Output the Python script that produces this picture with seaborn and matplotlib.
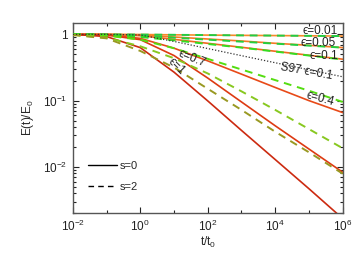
import matplotlib
matplotlib.use("Agg")
import matplotlib.pyplot as plt
import matplotlib.ticker as mticker
import seaborn as sns
import numpy as np

# time in units of t0
t = [1e-2, 1e-1, 1e0, 1e1, 1e2, 1e3, 1e4, 1e5, 1e6]

eps_labels = ["0.01", "0.05", "0.1", "0.4", "0.7", "1"]

# s = 0 (solid), E(t)/E0
e_s0_001 = [1.0, 1.0, 0.995, 0.984, 0.975, 0.966, 0.959, 0.951, 0.942]
e_s0_005 = [1.0, 1.0, 0.977, 0.912, 0.851, 0.794, 0.733, 0.684, 0.631]
e_s0_01 = [1.0, 1.0, 0.955, 0.841, 0.733, 0.638, 0.556, 0.484, 0.422]
e_s0_04 = [1.0, 0.982, 0.871, 0.619, 0.398, 0.251, 0.158, 0.100, 0.066]
e_s0_07 = [1.0, 0.977, 0.832, 0.479, 0.219, 0.0955, 0.0417, 0.0186, 0.0083]
e_s0_1 = [1.0, 0.927, 0.631, 0.269, 0.099, 0.0355, 0.0129, 0.00468, 0.00166]

# s = 2 (dashed)
e_s2_001 = [1.0, 0.998, 0.993, 0.984, 0.975, 0.966, 0.958, 0.950, 0.942]
e_s2_005 = [1.0, 0.989, 0.955, 0.891, 0.832, 0.776, 0.724, 0.676, 0.631]
e_s2_01 = [1.0, 0.977, 0.912, 0.813, 0.716, 0.631, 0.550, 0.479, 0.417]
e_s2_04 = [0.993, 0.955, 0.832, 0.617, 0.427, 0.295, 0.204, 0.141, 0.0955]
e_s2_07 = [0.989, 0.891, 0.661, 0.437, 0.257, 0.138, 0.0724, 0.0372, 0.0191]
e_s2_1 = [0.977, 0.871, 0.562, 0.316, 0.151, 0.0724, 0.0339, 0.0166, 0.0079]

# S97, eps = 0.1
e_s97 = [1.0, 1.0, 0.98, 0.782, 0.611, 0.477, 0.373, 0.292, 0.229]

solid = [e_s0_001, e_s0_005, e_s0_01, e_s0_04, e_s0_07, e_s0_1]
dashed = [e_s2_001, e_s2_005, e_s2_01, e_s2_04, e_s2_07, e_s2_1]

solid_colors = ["#f58a2a", "#f57a25", "#f06a20", "#e84a18", "#dd3a12", "#cc2a10"]
dashed_colors = ["#22cc44", "#22d040", "#33dd22", "#55dd11", "#88c820", "#999922"]

sns.set_style("ticks")
plt.rcParams["font.family"] = ["Liberation Sans", "DejaVu Sans"]
plt.rcParams["mathtext.fontset"] = "custom"
plt.rcParams["mathtext.rm"] = "Liberation Sans"
plt.rcParams["mathtext.default"] = "regular"

fig = plt.figure(figsize=(3.64, 2.6), dpi=100)
ax = fig.add_axes([0.2, 0.18, 0.7415, 0.7327])

# Curves
for e, c in zip(solid, solid_colors):
    sns.lineplot(x=t, y=e, ax=ax, color=c, lw=1.2, linestyle="-", zorder=2)
for e, c in zip(dashed, dashed_colors):
    sns.lineplot(x=t, y=e, ax=ax, color=c, lw=1.4, linestyle=(0, (4, 3)), zorder=3)
sns.lineplot(x=t, y=e_s97, ax=ax, color="#333333", lw=0.9, linestyle=(0, (1, 1.5)), zorder=3)

ax.set_xscale("log")
ax.set_yscale("log")
ax.set_xlim(1e-2, 1e6)
ax.set_ylim(0.002, 1.5)

# Ticks
ax.xaxis.set_major_locator(mticker.FixedLocator([1e-2, 1e0, 1e2, 1e4, 1e6]))
ax.xaxis.set_minor_locator(mticker.FixedLocator([1e-1, 1e1, 1e3, 1e5]))
ax.xaxis.set_minor_formatter(mticker.NullFormatter())
ax.xaxis.set_major_formatter(mticker.FuncFormatter(lambda v, p: "10$^{%d}$" % round(np.log10(v))))
ax.yaxis.set_major_locator(mticker.FixedLocator([1e-2, 1e-1, 1e0]))
ax.yaxis.set_minor_locator(mticker.LogLocator(base=10, subs=np.arange(2, 10)))
ax.yaxis.set_minor_formatter(mticker.NullFormatter())
ax.yaxis.set_major_formatter(mticker.FuncFormatter(
    lambda v, p: "1" if round(np.log10(v)) == 0 else "10$^{%d}$" % round(np.log10(v))))
ax.tick_params(which="both", direction="in", top=True, right=True, labelsize=8.5,
               colors="#222222", pad=4)
ax.tick_params(which="major", length=4, width=0.8)
ax.tick_params(which="minor", length=2.5, width=0.8)
for s in ax.spines.values():
    s.set_color("#555555")
    s.set_linewidth(1.0)

# Labels
ax.set_xlabel("t/t$_0$", fontsize=8.5, labelpad=1)
ax.set_ylabel("E(t)/E$_0$", fontsize=8.5, labelpad=5)

lab = dict(fontsize=8.5, color="#222222", ha="center", va="center")
ax.text(2.2e5, 1.13, "ϵ=0.01", **lab)
ax.text(1.9e5, 0.74, "ϵ=0.05", **lab)
ax.text(2.8e5, 0.47, "ϵ=0.1", **lab)
ax.text(8.5e4, 0.27, "S97 ϵ=0.1", rotation=-10, **lab)
ax.text(2.2e5, 0.105, "ϵ=0.4", rotation=-15, **lab)
ax.text(35, 0.43, "ϵ=0.7", rotation=-22, **lab)
ax.text(12, 0.33, "ϵ=1", rotation=-45, **lab)

# Legend (s values)
h1, = ax.plot([], [], color="black", lw=1.0, linestyle="-")
h2, = ax.plot([], [], color="black", lw=1.0, linestyle=(0, (4, 3)))
ax.legend([h1, h2], ["s=0", "s=2"], loc="lower left", bbox_to_anchor=(0.02, 0.06),
          frameon=False, fontsize=8, handlelength=2.6, handletextpad=0.2, labelspacing=1.0)

plt.savefig("out.png", dpi=100)
